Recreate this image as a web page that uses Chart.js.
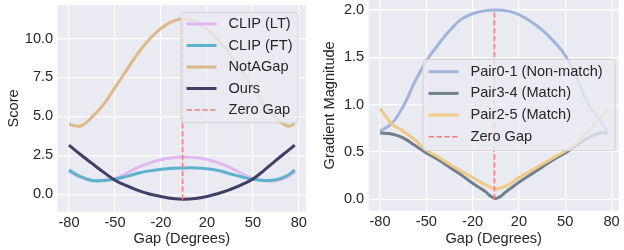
<!DOCTYPE html>
<html>
<head>
<meta charset="utf-8">
<script src="https://cdn.jsdelivr.net/npm/chart.js@4"></script>
<style>
  html, body { margin: 0; padding: 0; background: #fff; }
  .panel { position: absolute; top: 0; width: 312px; height: 250px; }
  #left { left: 0; }
  #right { left: 312px; }
</style>
</head>
<body>
<div class="panel" id="left"><canvas id="scoreChart" width="312" height="250"></canvas></div>
<div class="panel" id="right"><canvas id="gradChart" width="312" height="250"></canvas></div>
<script>
// gap positions on the x axis (tick units, ticks sit at +-0.5, +-1.5, +-2.5)
const GAP_POS = [-2.5, -2.25, -2, -1.75, -1.5, -1.25, -1, -0.75, -0.5, -0.25, 0,
                 0.25, 0.5, 0.75, 1, 1.25, 1.5, 1.75, 2, 2.25, 2.41];
const GAP_TICKS = [-2.5, -1.5, -0.5, 0.5, 1.5, 2.5];
const GAP_LABELS = ['-80', '-50', '-20', '20', '50', '80'];
const ZERO_GAP = -0.03;

// left panel: scores
const CLIP_LT = [1.45, 1.1, 0.9, 0.9, 1.0, 1.35, 1.72, 2.0, 2.22, 2.35, 2.39,
                 2.36, 2.24, 2.02, 1.72, 1.35, 1.0, 0.87, 0.88, 1.12, 1.45];
const CLIP_FT = [1.55, 1.13, 0.88, 0.88, 0.97, 1.15, 1.35, 1.5, 1.6, 1.67, 1.69,
                 1.69, 1.64, 1.52, 1.32, 1.12, 0.96, 0.89, 0.93, 1.2, 1.56];
const NOTAGAP = [4.5, 4.38, 4.95, 5.75, 6.85, 7.95, 9.05, 9.95, 10.65, 11.1, 11.25,
                 11.1, 10.6, 9.9, 9.0, 7.9, 6.8, 5.7, 4.9, 4.38, 4.5];
const OURS = [3.15, 2.55, 1.98, 1.42, 0.9, 0.55, 0.25, 0.02, -0.14, -0.27, -0.32,
              -0.27, -0.14, 0.05, 0.3, 0.6, 0.98, 1.55, 2.17, 2.77, 3.15];
const SCORE_ZERO_SPAN = [-0.35, 11.25];
const SCORE_TICKS = [0, 2.5, 5, 7.5, 10];

// right panel: gradient magnitudes
const PAIR01 = [0.72, 0.8, 0.98, 1.24, 1.46, 1.63, 1.78, 1.9, 1.96, 1.99, 2.0,
                1.99, 1.95, 1.88, 1.79, 1.67, 1.52, 1.28, 1.0, 0.84, 0.72];
const PAIR34 = [0.7, 0.69, 0.65, 0.57, 0.49, 0.42, 0.34, 0.26, 0.17, 0.09, 0.01,
                0.09, 0.18, 0.26, 0.34, 0.42, 0.49, 0.57, 0.65, 0.7, 0.7];
const PAIR25 = [0.96, 0.8, 0.72, 0.63, 0.52, 0.45, 0.37, 0.3, 0.23, 0.16, 0.11,
                0.15, 0.23, 0.3, 0.37, 0.44, 0.51, 0.6, 0.72, 0.85, 0.96];
const GRAD_ZERO_SPAN = [0, 2.0];
const GRAD_TICKS = [0, 0.5, 1, 1.5, 2];

const FONT = { family: '"Liberation Sans", Arial, sans-serif', size: 14.6 };
const TEXT = '#262626';

const points = (ys) => ys.map((y, i) => ({ x: GAP_POS[i], y: y }));
const vline = (span) => span.map((y) => ({ x: ZERO_GAP, y: y }));

function curve(label, ys, color, order) {
  return { label, data: points(ys), borderColor: color, borderWidth: 3,
           pointRadius: 0, tension: 0.4, fill: false, order };
}
function zeroLine(span) {
  return { label: 'Zero Gap', data: vline(span), borderColor: '#f07c80', borderWidth: 1.5,
           borderDash: [5.5, 2.4], pointRadius: 0, fill: false, order: 0, dashed: true };
}

// seaborn-ish panel background
const panelBg = {
  id: 'panelBg',
  beforeDraw(chart) {
    const { ctx, chartArea: a } = chart;
    ctx.save();
    ctx.fillStyle = '#eaeaf2';
    ctx.fillRect(a.left, a.top, a.right - a.left, a.bottom - a.top);
    ctx.restore();
  }
};

// legend box drawn inside the plot, like matplotlib's
const boxLegend = {
  id: 'boxLegend',
  afterDraw(chart, args, opts) {
    const ctx = chart.ctx;
    ctx.save();
    ctx.beginPath();
    ctx.roundRect(opts.x, opts.y, opts.w, opts.h, 3);
    ctx.fillStyle = 'rgba(234,234,242,0.8)';
    ctx.fill();
    ctx.strokeStyle = 'rgba(204,204,204,0.8)';
    ctx.lineWidth = 1;
    ctx.stroke();
    ctx.font = FONT.size + 'px ' + FONT.family;
    ctx.textBaseline = 'middle';
    chart.data.datasets.forEach((ds, i) => {
      const y = opts.y + opts.first + i * opts.step;
      ctx.beginPath();
      ctx.strokeStyle = ds.borderColor;
      ctx.lineWidth = ds.borderWidth;
      ctx.setLineDash(ds.dashed ? ds.borderDash : []);
      ctx.moveTo(opts.x + 5.5, y);
      ctx.lineTo(opts.x + 35.5, y);
      ctx.stroke();
      ctx.setLineDash([]);
      ctx.fillStyle = TEXT;
      ctx.fillText(ds.label, opts.x + 47.5, y);
    });
    ctx.restore();
  }
};

function options(yTitle, yMin, yMax, yTicks, leftW, titlePad, pad, xH, legend) {
  return {
    responsive: false,
    animation: false,
    layout: { padding: pad },
    plugins: { legend: { display: false }, tooltip: { enabled: false }, boxLegend: legend },
    scales: {
      x: {
        type: 'linear', min: -2.745, max: 2.655,
        afterBuildTicks: (s) => { s.ticks = GAP_TICKS.map((v) => ({ value: v })); },
        afterFit: (s) => { s.height = xH; s.paddingLeft = 0; s.paddingRight = 0; },
        ticks: { font: FONT, color: TEXT, padding: 3, maxRotation: 0,
                 callback: (v) => GAP_LABELS[GAP_TICKS.indexOf(v)] },
        grid: { color: '#ffffff', lineWidth: 1.2, drawTicks: false },
        border: { display: false },
        title: { display: true, text: 'Gap (Degrees)', font: FONT, color: TEXT,
                 padding: { top: 0, bottom: 2 } }
      },
      y: {
        type: 'linear', min: yMin, max: yMax,
        afterBuildTicks: (s) => { s.ticks = yTicks.map((v) => ({ value: v })); },
        afterFit: (s) => { s.width = leftW; s.paddingTop = 0; s.paddingBottom = 0; },
        ticks: { font: FONT, color: TEXT, padding: 4.5, callback: (v) => v.toFixed(1) },
        grid: { color: '#ffffff', lineWidth: 1.2, drawTicks: false },
        border: { display: false },
        title: { display: true, text: yTitle, font: FONT, color: TEXT,
                 padding: { top: titlePad, bottom: 0 } }
      }
    }
  };
}

new Chart(document.getElementById('scoreChart'), {
  type: 'line',
  data: {
    datasets: [
      curve('CLIP (LT)', CLIP_LT, '#e2b6f0', 5),
      curve('CLIP (FT)', CLIP_FT, '#5cb2cf', 4),
      curve('NotAGap', NOTAGAP, '#deb887', 3),
      curve('Ours', OURS, '#413f67', 2),
      zeroLine(SCORE_ZERO_SPAN)
    ]
  },
  options: options('Score', -1.12, 12.15, SCORE_TICKS, 57.7, 5.5,
                   { top: 5, right: 6, left: 0, bottom: 0 }, 38.3,
                   { x: 181, y: 12.7, w: 117, h: 110, first: 11.3, step: 21.5 }),
  plugins: [panelBg, boxLegend]
});

new Chart(document.getElementById('gradChart'), {
  type: 'line',
  data: {
    datasets: [
      curve('Pair0-1 (Non-match)', PAIR01, '#9fb5dc', 4),
      curve('Pair3-4 (Match)', PAIR34, '#6f7f8e', 3),
      curve('Pair2-5 (Match)', PAIR25, '#f1c985', 2),
      zeroLine(GRAD_ZERO_SPAN)
    ]
  },
  options: options('Gradient Magnitude', -0.12, 2.105, GRAD_TICKS, 56.7, 9,
                   { top: 0, right: 5.3, left: 0, bottom: 0 }, 39.3,
                   { x: 111, y: 59.3, w: 192.3, h: 91.4, first: 12.4, step: 21.7 }),
  plugins: [panelBg, boxLegend]
});
</script>
</body>
</html>
